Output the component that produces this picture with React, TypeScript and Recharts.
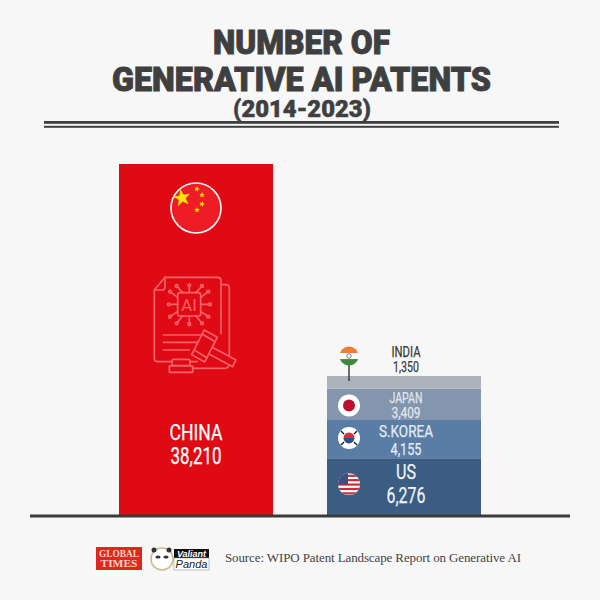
import { BarChart, Bar, XAxis, YAxis, LabelList } from 'recharts'

const regions = ['China', 'Others']
const chinaValues = [38210, 0]
const usValues = [0, 6276]
const koreaValues = [0, 4155]
const japanValues = [0, 3409]
const indiaValues = [0, 1350]

const rows = regions.map((name, i) => ({
  name,
  China: chinaValues[i],
  US: usValues[i],
  Korea: koreaValues[i],
  Japan: japanValues[i],
  India: indiaValues[i],
}))

const LABEL_FONT = 'Roboto, sans-serif'
const chipLegs = [
  [203, 412, 180, 395], [203, 433, 176, 433], [203, 454, 180, 470],
  [272, 412, 295, 395], [272, 433, 300, 433], [272, 454, 295, 470],
  [218, 398, 200, 378], [238, 398, 238, 376], [258, 398, 276, 378],
  [218, 468, 200, 490], [238, 468, 238, 492], [258, 468, 276, 490],
]

function Star({ cx, cy, r, rot = 0 }: { cx: number; cy: number; r: number; rot?: number }) {
  const pts = Array.from({ length: 10 }, (_, i) => {
    const a = ((i * 36 + rot - 90) * Math.PI) / 180
    const rad = i % 2 ? r * 0.4 : r
    return `${cx + rad * Math.cos(a)},${cy + rad * Math.sin(a)}`
  }).join(' ')
  return <polygon points={pts} fill="#ffe800" />
}

function PatentIcon() {
  return (
    <g fill="none" stroke="#f4626a" strokeWidth={5} strokeLinejoin="round" strokeLinecap="round">
      <path d="M335 374 H348 Q358 374 358 385 V590" />
      <path d="M165 352 H322 Q333 352 333 363 V520" />
      <path d="M165 352 L133 390 V595 Q133 605 144 605 H186" />
      <path d="M133 390 H155 Q165 390 165 380 V352" />
      <path d="M240 605 H262" />
      <path d="M240 625 H345 Q356 625 358 610" />
      <rect x={203} y={398} width={69} height={70} rx={7} />
      {chipLegs.map((l, i) => (
        <g key={i}>
          <line x1={l[0]} y1={l[1]} x2={l[2]} y2={l[3]} />
          <circle cx={l[2]} cy={l[3]} r={4} fill="#e00a14" />
        </g>
      ))}
      <text x={237} y={452} textAnchor="middle" fontSize={50} fontFamily={LABEL_FONT} fill="#f4626a" stroke="none" textLength={46} lengthAdjust="spacingAndGlyphs">AI</text>
      <line x1={160} y1={525} x2={270} y2={525} />
      <line x1={160} y1={547} x2={262} y2={547} />
      <line x1={160} y1={570} x2={238} y2={570} />
      <g fill="#e00a14">
        <path d="M300 558 L378 600 L368 620 L290 578 Z" />
        <path d="M283 510 L322 532 L284 606 L245 584 Z" />
        <path d="M276 522 L312 543" />
        <path d="M256 572 L292 594" />
        <path d="M190 598 H235 Q240 598 240 604 V617 H186 V604 Q186 598 190 598 Z" />
        <path d="M178 618 H248 V637 H178 Z" />
      </g>
    </g>
  )
}

function Squeezed({ x, y, size, len, fill, children }: any) {
  return (
    <text
      x={x}
      y={y}
      textAnchor="middle"
      fill={fill}
      stroke={fill}
      strokeWidth={0.25}
      fontFamily={LABEL_FONT}
      fontSize={size}
      textLength={len}
      lengthAdjust="spacingAndGlyphs"
    >
      {children}
    </text>
  )
}

function ChinaLabel(props: any) {
  const { x, y, width, value } = props
  if (!value) return null
  const mid = x + width / 2
  return (
    <g>
      <circle cx={mid} cy={y + 44} r={25} fill="#ee1c25" stroke="#fff" strokeWidth={1.6} />
      <Star cx={mid - 14} cy={y + 34} r={9} rot={-10} />
      <Star cx={mid + 1} cy={y + 25} r={3} rot={20} />
      <Star cx={mid + 6} cy={y + 31} r={3} />
      <Star cx={mid + 6} cy={y + 40} r={3} rot={20} />
      <Star cx={mid + 1} cy={y + 46} r={3} />
      <g transform={`translate(${x - 9},${y - 4}) scale(0.3333)`}>
        <PatentIcon />
      </g>
      <Squeezed x={mid} y={y + 275.5} size={22} len={53} fill="#fff">CHINA</Squeezed>
      <Squeezed x={mid} y={y + 300} size={23} len={51} fill="#fff">38,210</Squeezed>
    </g>
  )
}

function UsLabel(props: any) {
  const { x, y, value } = props
  if (!value) return null
  const cx = x + 22
  const cy = y + 26
  const stripes = [0, 1, 2, 3, 4]
  return (
    <g>
      <clipPath id="usClip"><circle cx={cx} cy={cy} r={11} /></clipPath>
      <g clipPath="url(#usClip)">
        <rect x={cx - 11} y={cy - 11} width={22} height={22} fill="#fff" />
        {stripes.map(s => (
          <rect key={s} x={cx - 11} y={cy - 9.5 + s * 4.4} width={22} height={2.2} fill="#c0303f" />
        ))}
        <rect x={cx - 11} y={cy - 11} width={10} height={11} fill="#3c4f86" />
      </g>
      <Squeezed x={x + 79} y={y + 21} size={20} len={20} fill="#f1f3f6">US</Squeezed>
      <Squeezed x={x + 79} y={y + 45} size={22} len={39} fill="#f1f3f6">6,276</Squeezed>
    </g>
  )
}

function KoreaLabel(props: any) {
  const { x, y, value } = props
  if (!value) return null
  const cx = x + 22
  const cy = y + 18
  return (
    <g>
      <circle cx={cx} cy={cy} r={11} fill="#fff" />
      <path d={`M${cx - 5.5} ${cy} A5.5 5.5 0 0 1 ${cx + 5.5} ${cy} Z`} fill="#d23040" />
      <path d={`M${cx - 5.5} ${cy} A5.5 5.5 0 0 0 ${cx + 5.5} ${cy} Z`} fill="#27508f" />
      <g stroke="#222" strokeWidth={1.4}>
        <line x1={cx - 8} y1={cy - 7} x2={cx - 5} y2={cy - 4} />
        <line x1={cx + 8} y1={cy - 7} x2={cx + 5} y2={cy - 4} />
        <line x1={cx - 8} y1={cy + 7} x2={cx - 5} y2={cy + 4} />
        <line x1={cx + 8} y1={cy + 7} x2={cx + 5} y2={cy + 4} />
      </g>
      <Squeezed x={x + 79} y={y + 17} size={17} len={54} fill="#e6ebf2">S.KOREA</Squeezed>
      <Squeezed x={x + 79} y={y + 35} size={17} len={31} fill="#e6ebf2">4,155</Squeezed>
    </g>
  )
}

function JapanLabel(props: any) {
  const { x, y, value } = props
  if (!value) return null
  const cx = x + 22
  const cy = y + 17
  return (
    <g>
      <circle cx={cx} cy={cy} r={11} fill="#fff" />
      <circle cx={cx} cy={cy} r={6} fill="#bc0f2e" />
      <Squeezed x={x + 79} y={y + 14} size={15} len={33} fill="#e2e6ec">JAPAN</Squeezed>
      <Squeezed x={x + 79} y={y + 29} size={15} len={29} fill="#e2e6ec">3,409</Squeezed>
    </g>
  )
}

function IndiaLabel(props: any) {
  const { x, y, value } = props
  if (!value) return null
  const cx = x + 22
  const cy = y - 20
  return (
    <g>
      <line x1={cx} y1={cy + 9} x2={cx} y2={y + 5} stroke="#333" strokeWidth={1.4} />
      <clipPath id="inClip"><circle cx={cx} cy={cy} r={9.5} /></clipPath>
      <g clipPath="url(#inClip)">
        <rect x={cx - 10} y={cy - 10} width={20} height={7} fill="#ee7f31" />
        <rect x={cx - 10} y={cy - 3} width={20} height={6} fill="#fff" />
        <rect x={cx - 10} y={cy + 3} width={20} height={7} fill="#3c8a3a" />
      </g>
      <circle cx={cx} cy={cy} r={2.2} fill="none" stroke="#5a5a90" strokeWidth={0.8} />
      <Squeezed x={x + 79} y={y - 19} size={14} len={29} fill="#3a3a3a">INDIA</Squeezed>
      <Squeezed x={x + 79} y={y - 4} size={14} len={26} fill="#3a3a3a">1,350</Squeezed>
    </g>
  )
}

function Header() {
  return (
    <svg width={600} height={140} style={{ position: 'absolute', left: 0, top: 0 }}>
      <g fill="#3f3f3f" stroke="#3f3f3f" strokeWidth={0.9} fontFamily={LABEL_FONT} fontWeight={900} textAnchor="middle">
        <text x={301.5} y={53.5} fontSize={33} textLength={177} lengthAdjust="spacingAndGlyphs">NUMBER OF</text>
        <text x={301.5} y={91} fontSize={33} textLength={379} lengthAdjust="spacingAndGlyphs">GENERATIVE AI PATENTS</text>
        <text x={302} y={117} fontSize={24} strokeWidth={0.5} textLength={138} lengthAdjust="spacingAndGlyphs">(2014-2023)</text>
      </g>
      <rect x={44} y={121} width={515} height={2.8} fill="#3f3f3f" />
      <rect x={44} y={125.8} width={515} height={2} fill="#3f3f3f" />
    </svg>
  )
}

function Footer() {
  return (
    <svg width={600} height={60} style={{ position: 'absolute', left: 0, top: 540 }}>
      <rect x={96} y={7} width={46} height={23} fill="#e1251f" />
      <g fill="#f6d9c8" fontFamily="Liberation Serif, serif" fontWeight={700} textAnchor="middle">
        <text x={119} y={17} fontSize={9.5} textLength={40} lengthAdjust="spacingAndGlyphs">GLOBAL</text>
        <text x={119} y={27} fontSize={9.5} textLength={37} lengthAdjust="spacingAndGlyphs">TIMES</text>
      </g>
      <circle cx={162} cy={19} r={11} fill="#fff" stroke="#cbbd92" strokeWidth={1.6} />
      <circle cx={154} cy={10} r={2.5} fill="#333" />
      <circle cx={169} cy={10} r={2.5} fill="#333" />
      <ellipse cx={158} cy={17} rx={2.6} ry={1.6} fill="#333" />
      <ellipse cx={166} cy={17} rx={2.6} ry={1.6} fill="#333" />
      <rect x={174} y={9} width={35} height={9} fill="#111" />
      <text x={191.5} y={17} textAnchor="middle" fill="#fff" fontSize={9} fontWeight={700} fontStyle="italic" fontFamily="Liberation Sans, sans-serif">Valiant</text>
      <rect x={174} y={18} width={35} height={12} fill="#fff" stroke="#999" strokeWidth={0.6} />
      <text x={191.5} y={28} textAnchor="middle" fill="#222" fontSize={11} fontStyle="italic" fontFamily="Liberation Sans, sans-serif">Panda</text>
      <text x={225} y={22} fill="#444" fontSize={13} fontFamily="Liberation Serif, serif" textLength={296}>Source: WIPO Patent Landscape Report on Generative AI</text>
    </svg>
  )
}

export default function App() {
  return (
    <div style={{ position: 'absolute', left: 0, top: 0, width: 600, height: 600, background: '#f7f7f7', overflow: 'hidden' }}>
      <Header />
      <div style={{ position: 'absolute', left: 0, top: 0 }}>
        <BarChart width={600} height={600} data={rows} margin={{ top: 164, right: 30, bottom: 83, left: 30 }} barSize={154}>
          <YAxis hide domain={[0, 38210]} />
          <Bar dataKey="China" stackId="a" fill="#e00a14" isAnimationActive={false}>
            <LabelList dataKey="China" content={ChinaLabel} />
          </Bar>
          <Bar dataKey="US" stackId="a" fill="#3b5c83" isAnimationActive={false}>
            <LabelList dataKey="US" content={UsLabel} />
          </Bar>
          <Bar dataKey="Korea" stackId="a" fill="#5a7da6" isAnimationActive={false}>
            <LabelList dataKey="Korea" content={KoreaLabel} />
          </Bar>
          <Bar dataKey="Japan" stackId="a" fill="#8496ae" isAnimationActive={false}>
            <LabelList dataKey="Japan" content={JapanLabel} />
          </Bar>
          <Bar dataKey="India" stackId="a" fill="#aeb3bb" isAnimationActive={false}>
            <LabelList dataKey="India" content={IndiaLabel} />
          </Bar>
          <XAxis
            dataKey="name"
            height={1}
            tick={false}
            tickLine={false}
            padding={{ left: 62, right: 62 }}
            axisLine={{ stroke: '#3a3a3a', strokeWidth: 3 }}
          />
        </BarChart>
      </div>
      <Footer />
    </div>
  )
}
